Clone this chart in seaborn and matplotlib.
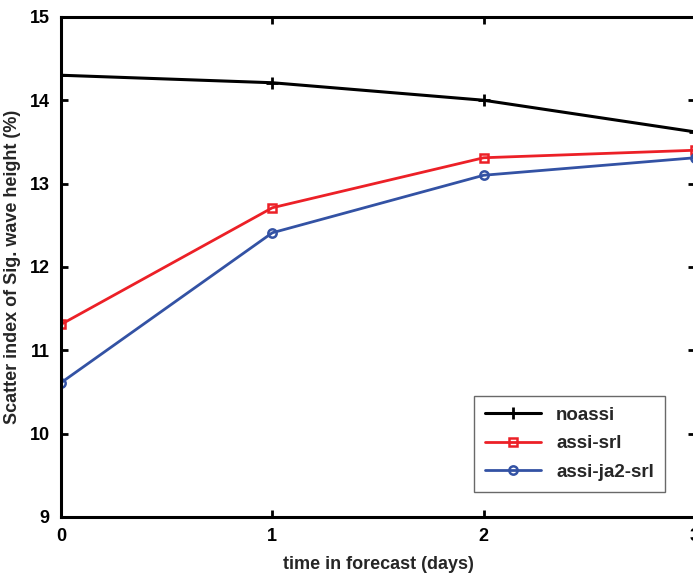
import pandas as pd
import matplotlib
matplotlib.use("Agg")
import matplotlib.pyplot as plt
import seaborn as sns

# values
days = [0, 1, 2, 3]
noassi = [14.30, 14.21, 14.00, 13.62]
assi_srl = [11.31, 12.71, 13.31, 13.40]
assi_ja2_srl = [10.61, 12.41, 13.10, 13.31]

sns.set_theme(style="ticks")
plt.rcParams['font.family'] = ['Liberation Sans', 'DejaVu Sans']
plt.rcParams['font.weight'] = 'bold'

fig = plt.figure(figsize=(6.93, 5.75), dpi=100)
ax = fig.add_axes([0.088, 0.101, 0.915, 0.8696])

black = 'black'
red = '#ec2027'
blue = '#3352a4'

sns.lineplot(x=days, y=noassi, ax=ax, color=black, marker='+', markersize=9,
             markeredgecolor=black, markeredgewidth=2, linewidth=2.2, label='noassi')
sns.lineplot(x=days, y=assi_srl, ax=ax, color=red, marker='s', markersize=6,
             markerfacecolor='none', markeredgecolor=red, markeredgewidth=1.8,
             linewidth=2.0, label='assi-srl')
sns.lineplot(x=days, y=assi_ja2_srl, ax=ax, color=blue, marker='o', markersize=6,
             markerfacecolor='none', markeredgecolor=blue, markeredgewidth=1.8,
             linewidth=2.0, label='assi-ja2-srl')

ax.set_xlim(0, 3)
ax.set_ylim(9, 15)
ax.set_xticks(days)
ax.set_yticks([9, 10, 11, 12, 13, 14, 15])
ax.tick_params(direction='in', length=5, width=2, top=True, right=True,
               labelsize=13, pad=8, colors='black')
for lab in ax.get_xticklabels() + ax.get_yticklabels():
    lab.set_fontweight('bold')
for sp in ax.spines.values():
    sp.set_linewidth(2.2)
    sp.set_color('black')

ax.set_xlabel('time in forecast (days)', fontsize=13, fontweight='bold', labelpad=8)
ax.set_ylabel('Scatter index of Sig. wave height (%)', fontsize=13, fontweight='bold', labelpad=6)

leg = ax.legend(loc='lower right', bbox_to_anchor=(0.953, 0.05), borderaxespad=0,
                fancybox=False, edgecolor='#444444', fontsize=13.5, handlelength=3,
                labelspacing=0.6, borderpad=0.6)
leg.get_frame().set_linewidth(1.0)
for t in leg.get_texts():
    t.set_fontweight('bold')

fig.savefig('out.png', dpi=100)
